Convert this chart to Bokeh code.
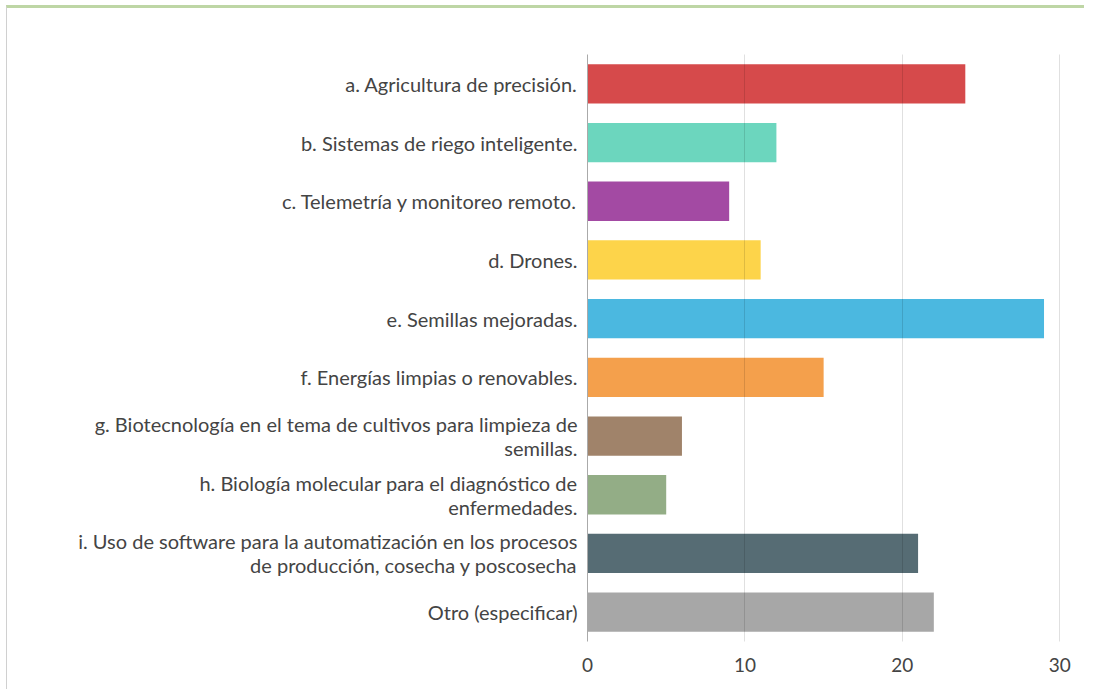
from bokeh.plotting import figure
from bokeh.models import ColumnDataSource, FactorRange, Range1d, FixedTicker
from bokeh.embed import file_html
from bokeh.resources import INLINE

labels = [
    "a. Agricultura de precisión.",
    "b. Sistemas de riego inteligente.",
    "c. Telemetría y monitoreo remoto.",
    "d. Drones.",
    "e. Semillas mejoradas.",
    "f. Energías limpias o renovables.",
    "g. Biotecnología en el tema de cultivos para limpieza de\nsemillas.",
    "h. Biología molecular para el diagnóstico de\nenfermedades.",
    "i. Uso de software para la automatización en los procesos\nde producción, cosecha y poscosecha",
    "Otro (especificar)",
]
values = [24, 12, 9, 11, 29, 15, 6, 5, 21, 22]
colors = ["#d64a4b", "#6cd6be", "#a34aa3", "#fdd44a", "#4bb8e0",
          "#f4a04c", "#a0836a", "#93ad86", "#566c74", "#a7a7a7"]
x_ticks = [0, 10, 20, 30]

src = ColumnDataSource(dict(k=labels, v=values, c=colors))

p = figure(
    width=1078, height=684,
    y_range=FactorRange(factors=list(reversed(labels))),
    x_range=Range1d(0, 31),
    output_backend="svg", toolbar_location=None, title=None,
    min_border_left=580, min_border_right=10,
    min_border_top=46, min_border_bottom=51,
    styles={"border-top": "3px solid #bed6a5", "border-left": "1px solid #d0d0d0",
            "margin-top": "5px", "margin-left": "6px"},
)
p.hbar(y="k", right="v", left=0, height=0.67, color="c", source=src, line_color=None)

p.outline_line_color = None
p.ygrid.grid_line_color = None
p.xgrid.ticker = FixedTicker(ticks=x_ticks)
p.xgrid.grid_line_color = "#000000"
p.xgrid.grid_line_alpha = 0.12
p.xgrid.level = "overlay"

p.xaxis.ticker = FixedTicker(ticks=x_ticks)
p.xaxis.axis_line_color = None
p.xaxis.major_tick_line_color = None
p.xaxis.minor_tick_line_color = None
p.xaxis.major_label_standoff = 10
p.xaxis.major_label_text_font = "Lato"
p.xaxis.major_label_text_font_size = "19px"
p.xaxis.major_label_text_color = "#444444"

p.yaxis.axis_line_color = "#aaaaaa"
p.yaxis.major_tick_line_color = None
p.yaxis.minor_tick_line_color = None
p.yaxis.major_tick_out = 0
p.yaxis.major_label_standoff = 10
p.yaxis.major_label_text_font = "Lato"
p.yaxis.major_label_text_font_size = "20px"
p.yaxis.major_label_text_color = "#444444"
p.yaxis.major_label_text_line_height = 1.0

open("out.html", "w").write(file_html(p, INLINE))
